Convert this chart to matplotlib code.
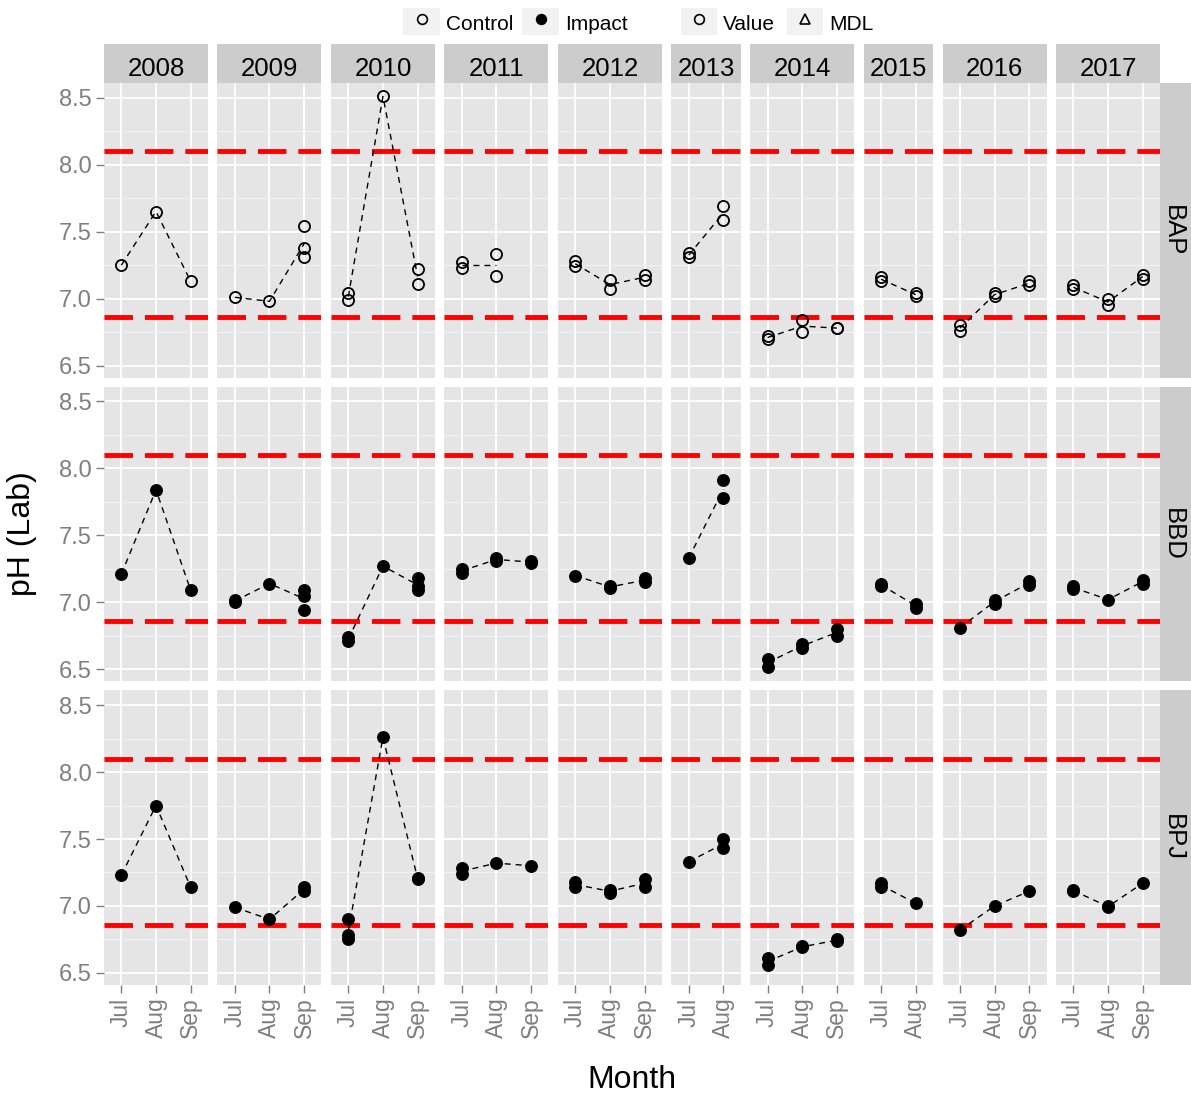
import matplotlib
matplotlib.use("Agg")
import matplotlib.pyplot as plt
from matplotlib.lines import Line2D
from matplotlib.patches import Rectangle
import numpy as np

plt.rcParams['font.family'] = ['Liberation Sans', 'DejaVu Sans']
plt.rcParams['lines.scale_dashes'] = False

# ---- data -------------------------------------------------------------
years = [2008, 2009, 2010, 2011, 2012, 2013, 2014, 2015, 2016, 2017]
month_labels = ["Jul", "Aug", "Sep"]
months_per_year = [3, 3, 3, 3, 3, 2, 3, 2, 3, 3]
sites = ["BAP", "BBD", "BPJ"]
site_group = {"BAP": "Control", "BBD": "Impact", "BPJ": "Impact"}
upper_limit = 8.1
lower_limit = 6.86
y_breaks = [6.5, 7.0, 7.5, 8.0, 8.5]

# lab pH per year: one list of replicate values per month (Jul, Aug, Sep)
ph_bap = {
    2008: [[7.25], [7.65], [7.13]],
    2009: [[7.01], [6.98], [7.54, 7.38, 7.31]],
    2010: [[7.04, 6.99], [8.51], [7.22, 7.11]],
    2011: [[7.27, 7.23], [7.33, 7.17], []],
    2012: [[7.28, 7.24], [7.14, 7.07], [7.18, 7.14]],
    2013: [[7.34, 7.31], [7.69, 7.59]],
    2014: [[6.72, 6.70], [6.84, 6.75], [6.78, 6.78]],
    2015: [[7.16, 7.13], [7.04, 7.02]],
    2016: [[6.80, 6.76], [7.04, 7.02], [7.13, 7.10]],
    2017: [[7.10, 7.07], [7.00, 6.95], [7.18, 7.15]],
}
ph_bbd = {
    2008: [[7.21], [7.84], [7.09]],
    2009: [[7.02, 7.00], [7.14], [7.09, 7.05, 6.94]],
    2010: [[6.74, 6.71], [7.27], [7.18, 7.12, 7.09]],
    2011: [[7.25, 7.22], [7.33, 7.31], [7.31, 7.29]],
    2012: [[7.20], [7.12, 7.11], [7.18, 7.15]],
    2013: [[7.33], [7.91, 7.78]],
    2014: [[6.58, 6.52], [6.69, 6.66], [6.80, 6.75]],
    2015: [[7.14, 7.12], [6.99, 6.96]],
    2016: [[6.81], [7.02, 6.99], [7.16, 7.13]],
    2017: [[7.12, 7.10], [7.02], [7.17, 7.14]],
}
ph_bpj = {
    2008: [[7.23], [7.75], [7.14]],
    2009: [[6.99], [6.90], [7.14, 7.11]],
    2010: [[6.90, 6.78, 6.75], [8.26], [7.21, 7.20]],
    2011: [[7.28, 7.24], [7.32], [7.30]],
    2012: [[7.18, 7.14], [7.12, 7.10], [7.20, 7.14]],
    2013: [[7.33], [7.50, 7.43]],
    2014: [[6.61, 6.56], [6.70, 6.69], [6.75, 6.74]],
    2015: [[7.17, 7.14], [7.02]],
    2016: [[6.82], [7.00], [7.11]],
    2017: [[7.12, 7.11], [7.00, 6.99], [7.17]],
}
site_values = {"BAP": ph_bap, "BBD": ph_bbd, "BPJ": ph_bpj}

# ---- layout (pixels) --------------------------------------------------
W, H = 1191, 1100
PANEL_LEFT, PANEL_RIGHT = 104, 1160
PANEL_TOP, PANEL_BOTTOM = 83, 985
GAP_X, GAP_Y = 9.5, 9
STRIP_TOP = 44
STRIP_RIGHT = 1191

BG = "#E5E5E5"
STRIP_BG = "#CCCCCC"
GREY_TXT = "#7F7F7F"

fig = plt.figure(figsize=(W / 100, H / 100), dpi=100)
fig.patch.set_facecolor("white")


def rect(x0, y0, x1, y1):
    return [x0 / W, 1 - y1 / H, (x1 - x0) / W, (y1 - y0) / H]


unit = (PANEL_RIGHT - PANEL_LEFT - GAP_X * (len(years) - 1)) / sum(months_per_year)
col_edges = []
x = PANEL_LEFT
for n in months_per_year:
    col_edges.append((x, x + n * unit))
    x += n * unit + GAP_X
row_h = (PANEL_BOTTOM - PANEL_TOP - GAP_Y * (len(sites) - 1)) / len(sites)
row_edges = [(PANEL_TOP + r * (row_h + GAP_Y), PANEL_TOP + r * (row_h + GAP_Y) + row_h)
             for r in range(len(sites))]

# year strips along the top
for (x0, x1), year in zip(col_edges, years):
    sax = fig.add_axes(rect(x0, STRIP_TOP, x1, PANEL_TOP))
    sax.set_facecolor(STRIP_BG)
    sax.set_xticks([]); sax.set_yticks([])
    for s in sax.spines.values():
        s.set_visible(False)
    sax.text(0.5, 0.36, str(year), ha="center", va="center", fontsize=18.5,
             transform=sax.transAxes)

# site strips on the right
for (y0, y1), site in zip(row_edges, sites):
    sax = fig.add_axes(rect(PANEL_RIGHT, y0, STRIP_RIGHT, y1))
    sax.set_facecolor(STRIP_BG)
    sax.set_xticks([]); sax.set_yticks([])
    for s in sax.spines.values():
        s.set_visible(False)
    sax.text(0.42, 0.5, site, ha="center", va="center", fontsize=18.5,
             rotation=-90, transform=sax.transAxes)

for r, site in enumerate(sites):
    data = site_values[site]
    face = "none" if site_group[site] == "Control" else "black"
    y0, y1 = row_edges[r]
    for c, year in enumerate(years):
        x0, x1 = col_edges[c]
        n = months_per_year[c]
        ax = fig.add_axes(rect(x0, y0, x1, y1))
        ax.set_facecolor(BG)
        for s in ax.spines.values():
            s.set_visible(False)
        ax.set_xlim(-0.5, n - 0.5)
        ax.set_ylim(6.41, 8.61)
        ax.set_xticks(range(n))
        ax.set_yticks(y_breaks)
        ax.set_yticks([6.75, 7.25, 7.75, 8.25], minor=True)
        ax.set_axisbelow(True)
        ax.grid(which="major", color="white", lw=1.3)
        ax.grid(which="minor", axis="y", color="#F2F2F2", lw=0.8)
        ax.tick_params(which="minor", left=False, bottom=False)

        # acceptable range
        for lim in (upper_limit, lower_limit):
            ax.axhline(lim, color="#FF0000", lw=3.5, ls=(0, (20.5, 8.6)), zorder=2)

        mx, my = [], []
        for i, vals in enumerate(data[year]):
            if not vals:
                continue
            ax.plot([i] * len(vals), vals, ls="none", marker="o", ms=8,
                    mfc=face, mec="black", mew=1.3, zorder=4)
            mx.append(i)
            my.append(np.mean(vals))
        ax.plot(mx, my, color="black", lw=1.0, ls=(0, (4.3, 3.6)), zorder=3)

        if c == 0:
            ax.tick_params(axis="y", which="major", length=6, width=1,
                           color=GREY_TXT, labelcolor=GREY_TXT, labelsize=17, pad=3)
            ax.set_yticklabels([f"{v:.1f}" for v in y_breaks])
        else:
            ax.tick_params(axis="y", which="both", left=False, labelleft=False)
        if r == len(sites) - 1:
            ax.tick_params(axis="x", which="major", length=6, width=1,
                           color=GREY_TXT, labelcolor=GREY_TXT, labelsize=16.5, pad=3)
            ax.set_xticklabels(month_labels[:n], rotation=90)
        else:
            ax.tick_params(axis="x", which="both", bottom=False, labelbottom=False)

# axis titles
fig.text(22 / W, 1 - 534 / H, "pH (Lab)", rotation=90, ha="center", va="center", fontsize=23)
fig.text(632 / W, 1 - 1080 / H, "Month", ha="center", va="center", fontsize=23)

# legend along the top
legend_items = [
    ("Control", "o", "none", 403, 440),
    ("Impact", "o", "black", 522, 559),
    ("Value", "o", "none", 681, 717),
    ("MDL", "^", "none", 787, 823),
]
for label, mk, fc, kx0, kx1 in legend_items:
    fig.add_artist(Rectangle((kx0 / W, 1 - 35 / H), (kx1 - kx0) / W, 27 / H,
                             transform=fig.transFigure, facecolor="#F2F2F2",
                             edgecolor="none"))
    fig.add_artist(Line2D([(kx0 + kx1) / 2 / W], [1 - 19 / H], marker=mk, ms=7,
                          mfc=fc, mec="black", mew=1.2, ls="none",
                          transform=fig.transFigure))
    fig.text((kx1 + 6) / W, 1 - 24 / H, label, ha="left", va="center", fontsize=15)

fig.savefig("out.png", dpi=100)
